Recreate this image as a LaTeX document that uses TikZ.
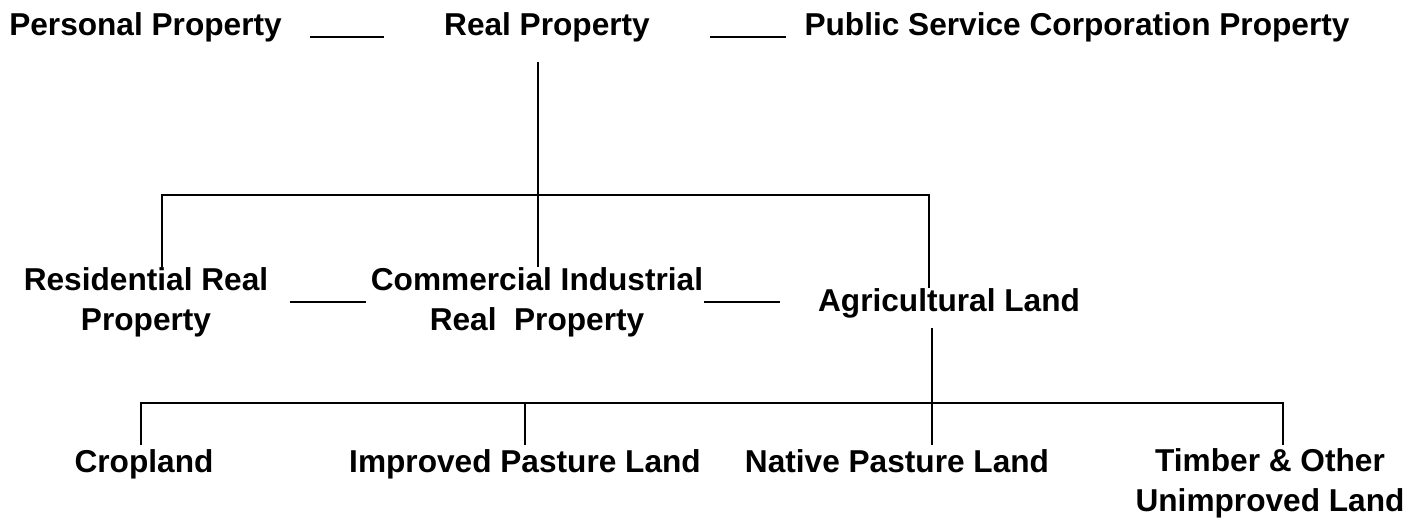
\documentclass[tikz,border=0pt]{standalone}
\usepackage{fontspec}
\setmainfont{Liberation Sans}
\usepackage{tikz}
\usetikzlibrary{calc, positioning}

\tikzset{
  lbl/.style={font=\bfseries\fontsize{18}{22.7}\selectfont, inner sep=0pt, align=center},
  conn/.style={line width=1.2pt}
}

\begin{document}
\begin{tikzpicture}

\useasboundingbox (0,0) rectangle (28.38,-10.36);

% top row
\node[lbl, anchor=base] (pers) at (2.91,-0.70) {Personal Property};
\node[lbl, anchor=base] (real) at (10.94,-0.70) {Real Property};
\node[lbl, anchor=base] (pub) at (21.54,-0.70) {Public Service Corporation Property};

% second row
\node[lbl, anchor=base] (res) at (2.92,-6.60) {Residential Real\\Property};
\node[lbl, anchor=base] (comm) at (10.74,-6.60) {Commercial Industrial\\Real\ \ Property};
\node[lbl, anchor=base] (agri) at (18.98,-6.22) {Agricultural Land};

% third row
\node[lbl, anchor=base] (crop) at (2.88,-9.44) {Cropland};
\node[lbl, anchor=base] (impr) at (10.50,-9.44) {Improved Pasture Land};
\node[lbl, anchor=base] (nat) at (17.94,-9.44) {Native Pasture Land};
\node[lbl, anchor=base] (timb) at (25.40,-10.22) {Timber \& Other\\Unimproved Land};

% short links
\draw[conn, shorten <=0.56cm, shorten >=1.2cm] ([yshift=-1pt]pers.base east) -- ([yshift=-1pt]real.base west);
\draw[conn, shorten <=1.2cm, shorten >=0.36cm] ([yshift=-1pt]real.base east) -- ([yshift=-1pt]pub.base west);
\draw[conn, shorten <=0.42cm, shorten >=0.1cm] (res.east) -- (res.east -| comm.west);
\draw[conn, shorten <=0.02cm, shorten >=0.76cm] (comm.east) -- (comm.east -| agri.west);

% real property branches
\coordinate (top) at (10.76,-1.24);
\coordinate (barL) at (3.24,-3.9);
\coordinate (barR) at (18.58,-3.9);
\draw[conn] (top) -- (top |- comm.north);
\draw[conn] (barL |- res.north) -- (barL) -- (barR) -- (barR |- agri.north);

% agricultural land branches
\coordinate (low) at (18.64,-8.06);
\coordinate (lowL) at (2.82,-8.06);
\coordinate (lowR) at (25.66,-8.06);
\draw[conn, shorten <=0.2cm] (agri.south -| low) -- ($(low)+(0,-0.84)$);
\draw[conn] ($(lowL)+(0,-0.84)$) -- (lowL) -- (lowR) -- ++(0,-0.84);
\draw[conn] (impr.base |- low) -- ++(0,-0.84);

\end{tikzpicture}
\end{document}
